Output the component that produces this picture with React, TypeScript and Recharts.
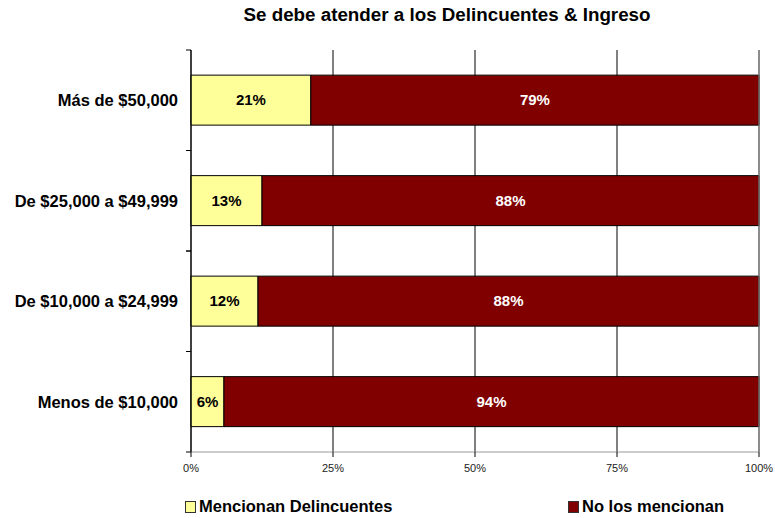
import { BarChart, Bar, XAxis, YAxis, CartesianGrid, LabelList, ReferenceLine } from "recharts";

const categories = ["Más de $50,000", "De $25,000 a $49,999", "De $10,000 a $24,999", "Menos de $10,000"];
const mencionan = [21.1, 12.5, 11.8, 5.8];
const noMencionan = [78.9, 87.5, 88.2, 94.2];
const xTicks = [0, 25, 50, 75, 100];

const data = categories.map((c, i) => ({ name: c, mencionan: mencionan[i], noMencionan: noMencionan[i] }));

const FONT = "'Liberation Sans', Arial, Helvetica, sans-serif";
const YELLOW = "#FFFF99";
const RED = "#800000";

const PLOT_TOP = 50;
const PLOT_BOTTOM = 452;
const BAND = (PLOT_BOTTOM - PLOT_TOP) / categories.length;

// category label + tick marks at the band edges (Excel style)
function CategoryTick(props: any) {
  const { x, y, payload } = props;
  return (
    <g>
      <line x1={x + 8} x2={x + 13} y1={y - BAND / 2} y2={y - BAND / 2} stroke="#000" />
      <line x1={x + 8} x2={x + 13} y1={y + BAND / 2} y2={y + BAND / 2} stroke="#000" />
      <text x={x} y={y} dy={6} textAnchor="end" fontFamily={FONT} fontWeight="bold" fontSize={16.5} fill="#000">
        {payload.value}
      </text>
    </g>
  );
}

const pct = (v: any) => `${Math.round(Number(v))}%`;

export default function App() {
  return (
    <div style={{ position: "absolute", left: 0, top: 0, width: 775, height: 518, background: "#fff", fontFamily: FONT }}>
      <div style={{ position: "absolute", top: 4, left: 0, width: 894, textAlign: "center", fontWeight: "bold", fontSize: 18.8 }}>
        Se debe atender a los Delincuentes &amp; Ingreso
      </div>
      <BarChart
        width={775}
        height={518}
        data={data}
        layout="vertical"
        margin={{ top: PLOT_TOP, right: 16, bottom: 46, left: 0 }}
        barCategoryGap="25%"
        stackOffset="expand"
      >
        <CartesianGrid horizontal={false} vertical={true} stroke="#000" />
        <XAxis
          type="number"
          domain={[0, 1]}
          ticks={xTicks.map((t) => t / 100)}
          tickFormatter={(v: number) => `${Math.round(v * 100)}%`}
          axisLine={{ stroke: "#999" }}
          tickLine={{ stroke: "#000" }}
          tickSize={5}
          tickMargin={7}
          tick={{ fontSize: 11, fill: "#222", fontFamily: FONT }}
          height={20}
        />
        <XAxis xAxisId="top" orientation="top" type="number" domain={[0, 1]} tick={false} tickLine={false} axisLine={{ stroke: "#999" }} height={0} />
        <YAxis
          type="category"
          dataKey="name"
          width={191}
          axisLine={{ stroke: "#000" }}
          tickLine={false}
          tick={<CategoryTick />}
          tickMargin={7}
        />
        <ReferenceLine x={1} stroke="#999" />
        <Bar dataKey="mencionan" stackId="a" fill={YELLOW} stroke="#000" strokeWidth={1} isAnimationActive={false}>
          <LabelList
            dataKey="mencionan"
            position="center"
            formatter={pct}
            style={{ fontFamily: FONT, fontWeight: "bold", fontSize: 15, fill: "#000" }}
          />
        </Bar>
        <Bar dataKey="noMencionan" stackId="a" fill={RED} stroke="#000" strokeWidth={1} isAnimationActive={false}>
          <LabelList
            dataKey="noMencionan"
            position="center"
            formatter={pct}
            style={{ fontFamily: FONT, fontWeight: "bold", fontSize: 15, fill: "#fff" }}
          />
        </Bar>
      </BarChart>
      <div style={{ position: "absolute", top: 497, left: 185, display: "flex", alignItems: "center", fontWeight: "bold", fontSize: 16.5 }}>
        <span style={{ display: "inline-block", width: 9, height: 10, background: YELLOW, border: "1px solid #333", marginRight: 3 }} />
        Mencionan Delincuentes
      </div>
      <div style={{ position: "absolute", top: 497, left: 568, display: "flex", alignItems: "center", fontWeight: "bold", fontSize: 16.5 }}>
        <span style={{ display: "inline-block", width: 9, height: 10, background: RED, border: "1px solid #333", marginRight: 3 }} />
        No los mencionan
      </div>
    </div>
  );
}
